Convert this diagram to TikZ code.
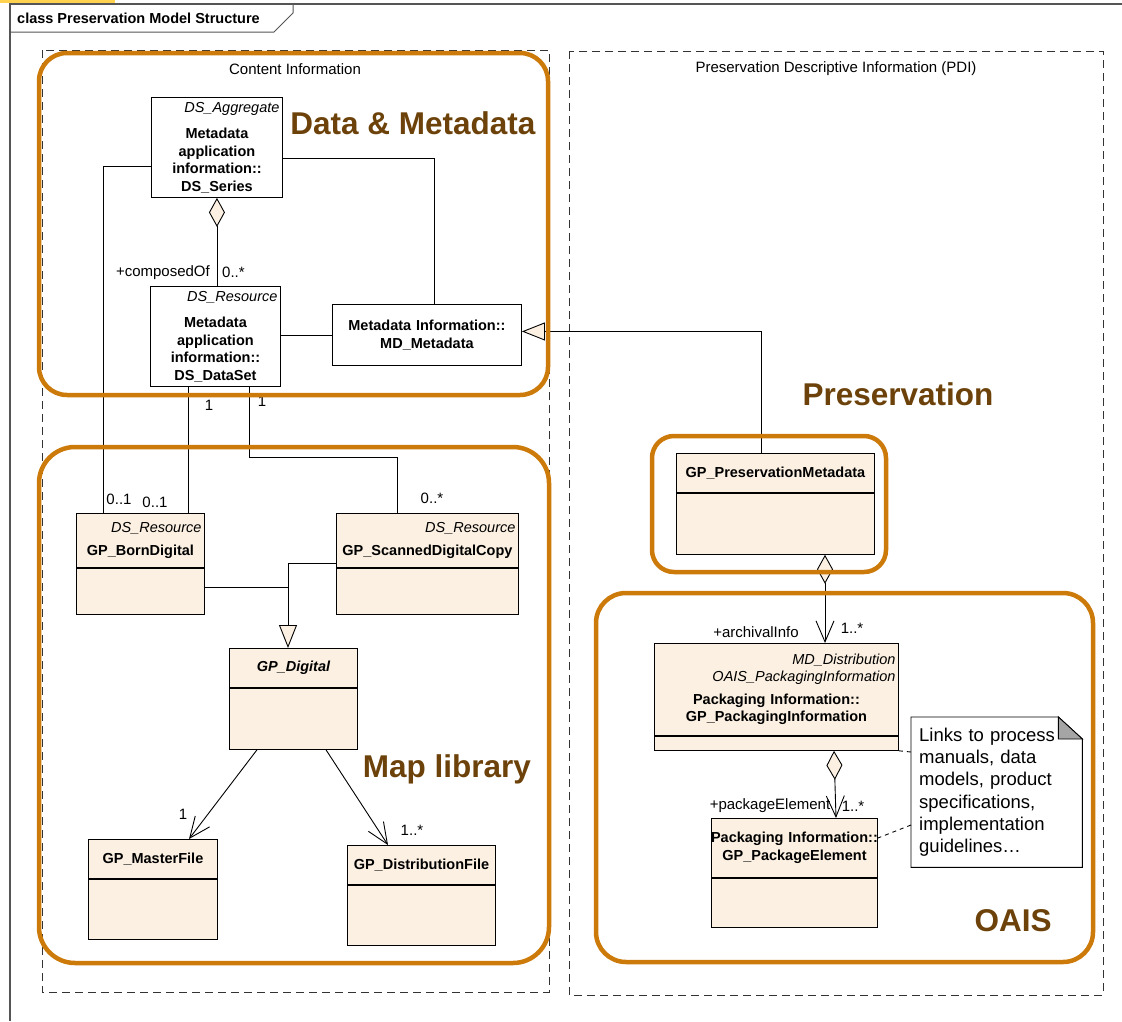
\documentclass[tikz,border=0pt]{standalone}
\usepackage{fontspec}
\setmainfont{Liberation Sans}
\usepackage{tikz}
\usetikzlibrary{arrows.meta,positioning}

\definecolor{cream}{RGB}{251,240,225}
\definecolor{zoneorange}{RGB}{204,122,10}
\definecolor{zonebrown}{RGB}{108,66,10}
\definecolor{foldgray}{RGB}{165,165,165}
\definecolor{framegray}{RGB}{85,85,85}
\definecolor{selyellow}{RGB}{255,210,80}

\newcommand{\txtfont}{\fontsize{15}{18}\selectfont}
\newcommand{\clsfont}{\fontsize{14.5}{17.5}\selectfont\bfseries}
\newcommand{\stereo}[1]{\makebox[\hsize][r]{\mdseries\itshape #1\hspace{3pt}}}

\tikzset{
  cls/.style={draw, fill=cream, line width=0.9pt, inner xsep=0pt, inner ysep=2pt,
    anchor=north west, align=center, font=\clsfont},
  clsw/.style={minimum width=#1, text width=#1},
  plain/.style={cls, fill=white},
  link/.style={line width=0.9pt},
  assoc/.style={link, -{Straight Barb[length=21pt,width=18pt]}},
  aggr/.style={link, {Diamond[length=29pt,width=16pt,fill=cream]}-},
  aggrnav/.style={link, {Diamond[length=29pt,width=16pt,fill=cream]}-{Straight Barb[length=21pt,width=18pt]}},
  gen/.style={link, -{Triangle[length=23pt,width=18pt,fill=cream]}},
  notelink/.style={link, dash pattern=on 4pt off 4pt},
  mult/.style={font=\txtfont, inner sep=1pt},
  area/.style={draw=black!80, dash pattern=on 8pt off 5pt, line width=0.9pt},
  zone/.style={draw=zoneorange, line width=4.5pt, rounded corners=30pt},
  zonetitle/.style={font=\fontsize{31.5}{36}\selectfont\bfseries, text=zonebrown, inner sep=0pt}
}

\begin{document}
\begin{tikzpicture}[x=1pt, y=-1pt]
\useasboundingbox (0,0) rectangle (1122,1021);

% diagram frame
\fill[selyellow] (0,0) rectangle (115,3);
\draw[framegray, line width=1.3pt] (10,1021) -- (10,4) -- (1122,4);
\draw[framegray, line width=1pt] (10,32) -- (274,32) -- (293,13) -- (293,4);
\node[anchor=west, font=\clsfont, inner sep=0pt] (title) at (17,18) {class Preservation Model Structure};

% packages
\draw[area] (42,50) rectangle (549,992);
\draw[area] (569,51) rectangle (1103,995);
\node[mult] (cilabel) at (295,69) {Content Information};
\node[mult] (pdilabel) at (836,69) {Preservation Descriptive Information (PDI)};

% metadata classes
\node[plain, clsw=131pt, minimum height=100pt, inner ysep=0pt] (series) at (151,97)
  {\stereo{DS\_Aggregate}\\[9pt] Metadata\\ application\\ information::\\ DS\_Series\\[-6pt]};
\node[plain, clsw=130pt, minimum height=100pt, inner ysep=0pt] (dataset) at (150,286)
  {\stereo{DS\_Resource}\\[9pt] Metadata\\ application\\ information::\\ DS\_DataSet\\[-6pt]};
\node[plain, clsw=189pt, minimum height=61pt] (mdmeta) at (332,304)
  {Metadata Information::\\ MD\_Metadata};

% map library classes
\node[cls, clsw=128pt, minimum height=54pt] (born) at (76,513)
  {\stereo{DS\_Resource}\\[6pt] GP\_BornDigital};
\node[cls, clsw=128pt, minimum height=46pt, below=0pt of born] (bornbody) {};
\node[cls, clsw=182pt, minimum height=54pt] (scanned) at (336,513)
  {\stereo{DS\_Resource}\\[6pt] GP\_ScannedDigitalCopy};
\node[cls, clsw=182pt, minimum height=46pt, below=0pt of scanned] (scannedbody) {};
\node[cls, clsw=128pt, minimum height=39pt] (digital) at (229,648) {\itshape GP\_Digital};
\node[cls, clsw=128pt, minimum height=61pt, below=0pt of digital] (digitalbody) {};
\node[cls, clsw=129pt, minimum height=39pt] (master) at (88,839) {GP\_MasterFile};
\node[cls, clsw=129pt, minimum height=60pt, below=0pt of master] (masterbody) {};
\node[cls, clsw=148pt, minimum height=39pt] (distrib) at (347,845) {GP\_DistributionFile};
\node[cls, clsw=148pt, minimum height=60pt, below=0pt of distrib] (distribbody) {};

% preservation and OAIS classes
\node[cls, clsw=198pt, minimum height=39pt] (presmeta) at (676,453) {GP\_PreservationMetadata};
\node[cls, clsw=198pt, minimum height=61pt, below=0pt of presmeta] (presbody) {};
\node[cls, clsw=244pt, minimum height=92pt] (packinfo) at (654,643)
  {\stereo{MD\_Distribution}\\ \stereo{OAIS\_PackagingInformation}\\[5pt]
   Packaging Information::\\ GP\_PackagingInformation};
\node[cls, clsw=244pt, minimum height=14pt, below=0pt of packinfo] (packbody) {};
\node[cls, clsw=166pt, minimum height=59pt] (packelem) at (711,818)
  {\makebox[\hsize][c]{Packaging Information::}\\ GP\_PackageElement};
\node[cls, clsw=166pt, minimum height=49pt, below=0pt of packelem] (packelembody) {};

% note
\node[anchor=north west, text width=155pt, minimum width=171pt, minimum height=150pt,
  inner xsep=8pt, align=left, font=\fontsize{18.5}{22.3}\selectfont] (note) at (911,717)
  {Links to process\\ manuals, data\\ models, product\\ specifications,\\ implementation\\ guidelines…};
\draw[link] (note.north west) -- ([xshift=-24pt]note.north east) -- ([yshift=-22pt]note.north east)
  -- (note.south east) -- (note.south west) -- cycle;
\filldraw[link, fill=foldgray] ([xshift=-24pt]note.north east) |- ([yshift=-22pt]note.north east) -- cycle;

% connectors
\draw[aggr] (series.south) -- (series.south |- dataset.north);
\draw[link] ([yshift=-61pt]series.north east) -| ([xshift=102pt]mdmeta.north west);
\draw[link] (dataset.east |- mdmeta.west) -- (mdmeta.west);
\draw[gen] ([xshift=85pt]presmeta.north west) |- ([yshift=3.5pt]mdmeta.east);
\draw[link] ([yshift=-69pt]series.north west) -| ([xshift=27pt]born.north west);
\draw[link] ([xshift=38pt]dataset.south west) -- ([xshift=112pt]born.north west);
\draw[link] ([xshift=99pt]dataset.south west) |- ([xshift=61pt,yshift=56pt]scanned.north west)
  -- ([xshift=61pt]scanned.north west);
\coordinate (gjoin) at (288,587);
\draw[link] ([yshift=-50pt]scanned.north west) -| (gjoin);
\draw[gen] ([yshift=-20pt]bornbody.north east) -| ([xshift=59pt]digital.north west);
\draw[assoc] ([xshift=28pt]digitalbody.south west) -- ([xshift=101pt]master.north west);
\draw[assoc] ([xshift=97pt]digitalbody.south west) -- ([xshift=41pt]distrib.north west);
\draw[aggrnav] ([xshift=149pt]presbody.south west) -- ([xshift=171pt]packinfo.north west);
\draw[aggrnav] ([xshift=180pt]packbody.south west) -- ([xshift=125pt]packelem.north west);
\draw[notelink] (packbody.south east) -- ([yshift=-35pt]note.north west);
\draw[notelink] ([yshift=-108pt]note.north west) -- ([yshift=-20pt]packelem.north east);

% roles and multiplicities
\node[mult, anchor=east] (rcomposed) at (211,273) {+composedOf};
\node[mult, anchor=west] (mcomposed) at (221,272) {0..*};
\node[mult] (mset1) at (209,405) {1};
\node[mult] (mset2) at (262,401) {1};
\node[mult] (mborn1) at (119,499) {0..1};
\node[mult] (mborn2) at (155,502) {0..1};
\node[mult] (mscan) at (432,498) {0..*};
\node[mult] (mmaster) at (183,814) {1};
\node[mult] (mdistrib) at (412,830) {1..*};
\node[mult] (rarchival) at (756,632) {+archivalInfo};
\node[mult] (marchival) at (852,628) {1..*};
\node[mult] (rpackage) at (770,806) {+packageElement};
\node[mult] (mpackage) at (853,806) {1..*};

% highlighted zones
\draw[zone, rounded corners=28pt] (39,53) rectangle (548,395);
\draw[zone, rounded corners=36pt] (39,447) rectangle (549,963);
\draw[zone, rounded corners=22pt] (652,436) rectangle (886,572);
\draw[zone] (596,593) rectangle (1093,962);
\node[zonetitle] (tdata) at (413,123) {Data \& Metadata};
\node[zonetitle] (tmap) at (447,769) {Map library};
\node[zonetitle] (tpres) at (898,394) {Preservation};
\node[zonetitle] (toais) at (1013,921) {OAIS};
\end{tikzpicture}
\end{document}
